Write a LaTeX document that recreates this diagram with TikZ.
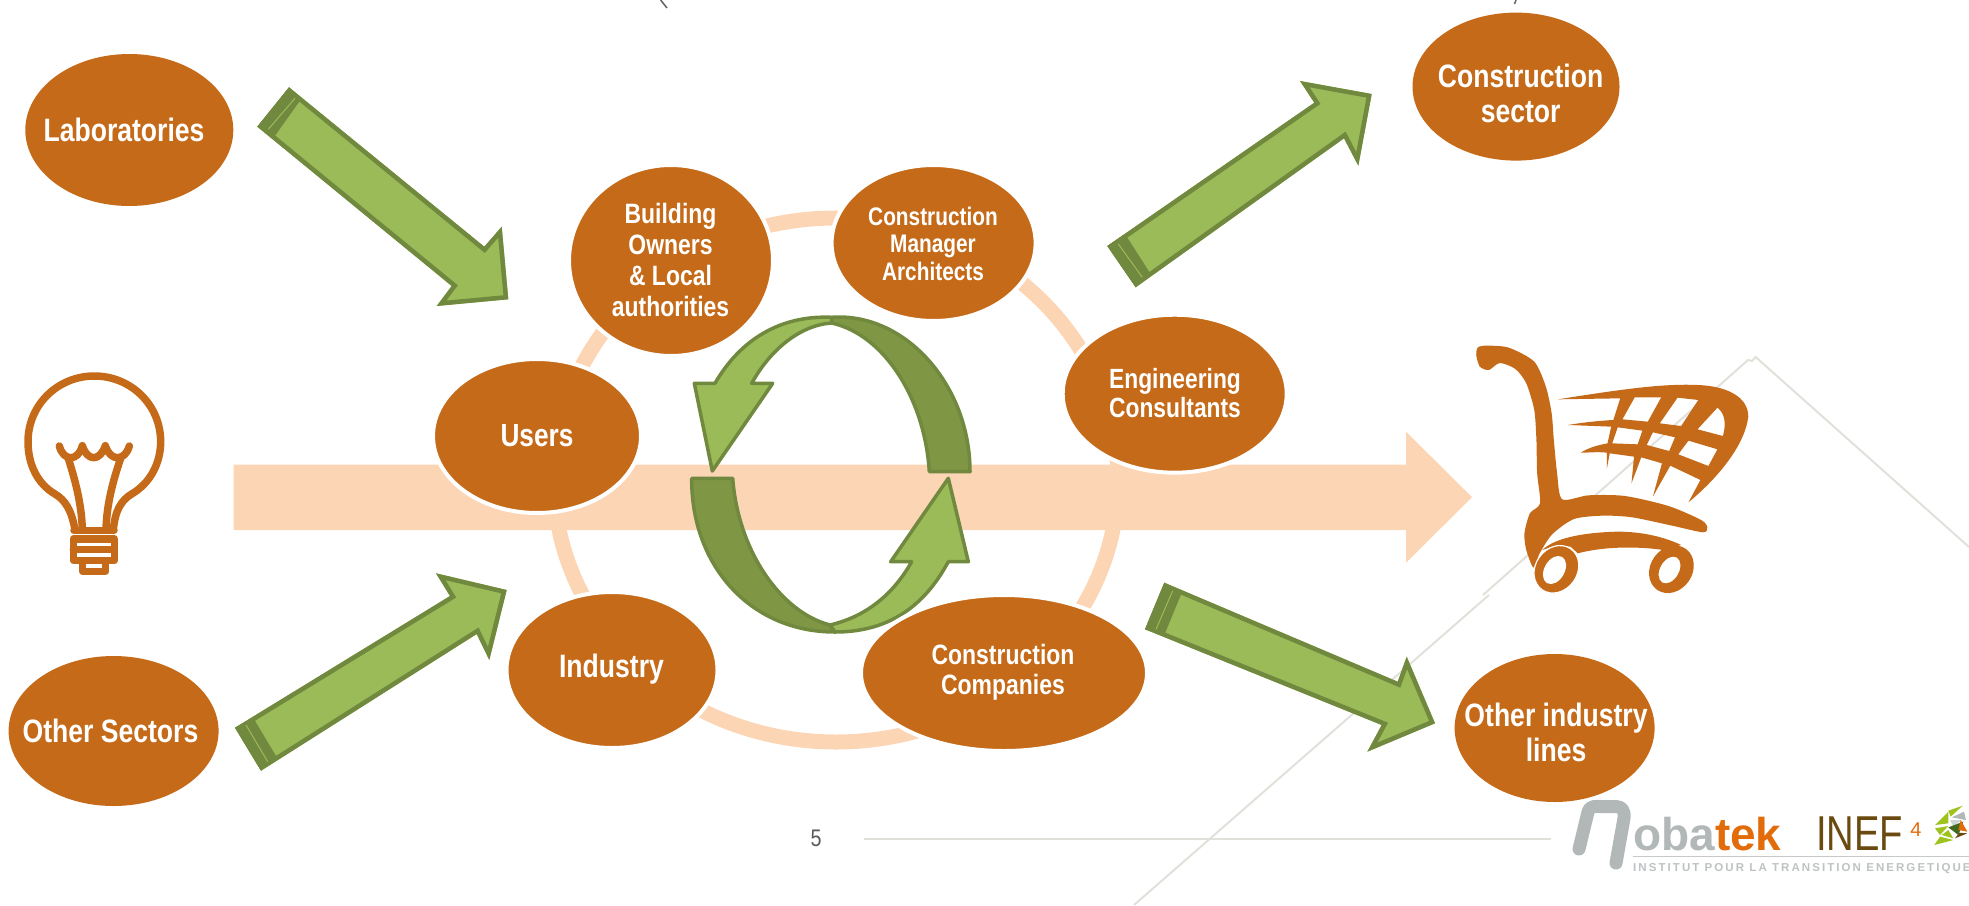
\documentclass[tikz,border=0pt]{standalone}
\usepackage{fontspec}
\usetikzlibrary{shapes.geometric}
\setmainfont{Liberation Sans}
\newfontfamily\narrowfont[FakeStretch=0.82]{Liberation Sans}
\newfontfamily\inefont[FakeStretch=0.78]{Liberation Sans}
\definecolor{blobc}{HTML}{C56A18}
\definecolor{peach}{HTML}{FCD5B5}
\definecolor{gl}{HTML}{9BBB59}
\definecolor{gd}{HTML}{7F9645}
\definecolor{gs}{HTML}{71893F}
\definecolor{bgl}{HTML}{E2E0DB}
\definecolor{lgrey}{HTML}{B2B7B7}
\definecolor{lorange}{HTML}{E36C0A}
\definecolor{lbrown}{HTML}{6B4A10}
\definecolor{llime}{HTML}{9FC31D}
\definecolor{ldark}{HTML}{3E6B1E}
\tikzset{
  blob/.style={ellipse,fill=blobc,inner sep=0pt,outer sep=0pt},
  ringblob/.style={blob,draw=white,line width=4pt},
  lbl/.style={text=white,align=center,inner sep=0pt},
  cyc/.style={draw=gs,line width=3.5pt,line join=round},
  bgline/.style={draw=bgl,line width=2pt},
}
\newcommand\blockarrow[3]{%
  \fill[gl] #1 -- cycle;
  \fill[gs] #2 -- cycle;
  \begin{scope}
    \clip #1 -- cycle;
    \draw[gs,line width=9pt,line join=miter] #1 -- cycle;
    \draw[gl,line width=1pt] #3;
  \end{scope}}
\newcommand\lab[5]{\node[lbl,font={\narrowfont\bfseries\fontsize{#3}{#4}\selectfont}] at (#1,#2) {#5};}
\begin{document}
\begin{tikzpicture}[x=1pt,y=-1pt]
\useasboundingbox (0,0) rectangle (1969,905);
% background lines
\draw[bgline] (1134,905) -- (1489,595) (1483,595) -- (1748,360) -- (1752,361) -- (1755.6,357) -- (1969,547);
\draw[bgline] (864,838.5) -- (1551,838.5);
% cut off text above
\draw[color=black!60,line width=1.5pt] (660.6,0) -- (667,8) (1516,0) -- (1514.5,4);
% main arrow
\fill[peach] (233.5,464.7) -- (1406,464.7) -- (1406,431.7) -- (1472,497.2) -- (1406,562.7) -- (1406,530) -- (233.5,530) -- cycle;
% ring
\draw[peach,line width=15pt] (836,480) ellipse [x radius=282,y radius=262];
% cycle arrows
\path[cyc,fill=gd] (831.7,317.3) .. controls (905,312) and (970,385) .. (970,471.7) -- (929.3,471.7) .. controls (925,400) and (885,335) .. (831.7,323) -- cycle;
\path[cyc,fill=gl] (831.7,317.3) .. controls (780,315) and (740,340) .. (715,383.3) -- (694.3,383.3) -- (712.3,471) -- (772.7,383.3) -- (751.7,383.3) .. controls (770,350) and (800,325) .. (831.7,323) -- cycle;
\path[cyc,fill=gd] (691.7,478.3) .. controls (691,565) and (750,632) .. (835,632) -- (830,625) .. controls (780,612) and (738,550) .. (732.7,478.3) -- cycle;
\path[cyc,fill=gl] (948.3,478.3) -- (968.3,561.7) -- (948.3,561.7) .. controls (925,605) and (890,632) .. (835,632) -- (830,625) .. controls (860,618) and (890,600) .. (911.7,561.7) -- (890.7,561.7) -- cycle;
% outer blobs
\node[blob,minimum width=208pt,minimum height=152pt] (labs) at (129.3,130) {};
\node[blob,minimum width=210pt,minimum height=150pt] (others) at (113.6,731) {};
\node[blob,minimum width=207pt,minimum height=148pt] (csector) at (1516,86.6) {};
\node[blob,minimum width=200pt,minimum height=148pt] (olines) at (1554.6,728) {};
% ring blobs
\node[ringblob,minimum width=208pt,minimum height=154pt] (users) at (537,436) {};
\node[ringblob,minimum width=204pt,minimum height=191pt] (owners) at (671,260.5) {};
\node[ringblob,minimum width=204pt,minimum height=156pt] (manager) at (933.6,243) {};
\node[ringblob,minimum width=224pt,minimum height=158pt] (engineers) at (1174.7,393.7) {};
\node[ringblob,minimum width=286pt,minimum height=156pt] (companies) at (1004,673) {};
\node[ringblob,minimum width=211pt,minimum height=156pt] (industry) at (612,670) {};
% labels
\lab{124}{129.5}{32.4}{35}{Laboratories}
\lab{110.5}{731}{32.4}{35}{Other Sectors}
\lab{1520.6}{93}{32.4}{35}{Construction\\sector}
\lab{1556}{732}{32.4}{35}{Other industry\\lines}
\lab{537}{436}{32}{35}{Users}
\lab{670.5}{260}{28}{31}{Building\\Owners\\\& Local\\authorities}
\lab{933}{243.6}{25.4}{27.6}{Construction\\Manager\\Architects}
\lab{1175}{393}{27.8}{29}{Engineering\\Consultants}
\lab{1003}{672}{28}{30}{Construction\\Companies}
\lab{611.5}{669}{32.4}{35}{Industry}
% green arrows
\blockarrow{(289,87.3) -- (484.3,246.7) -- (501.7,226.7) -- (508.3,299.3) -- (436.7,306) -- (451.7,286) -- (257.3,126.7)}
  {(289,87.3) -- (301.7,98.3) -- (275,135.7) -- (257.3,126.7)}
  {(295,98.3) -- (268.3,129.3)}
\blockarrow{(235,727.7) -- (450,596) -- (436,573.3) -- (506.7,590) -- (489.3,660) -- (476.7,634) -- (261,770.7)}
  {(235,727.7) -- (253.3,718) -- (276,756) -- (261,770.7)}
  {(246,725) -- (267.7,761.7)}
\blockarrow{(1107.3,246) -- (1314.3,102.7) -- (1300,81) -- (1371.7,94) -- (1358.3,165.7) -- (1344,138.3) -- (1135.7,287.3)}
  {(1107.3,246) -- (1125,234) -- (1150,273) -- (1135.7,287.3)}
  {(1118.3,244) -- (1142.3,277.3)}
\blockarrow{(1164.3,582.7) -- (1397.7,681.7) -- (1406.7,656.7) -- (1435,723.3) -- (1367.3,751.7) -- (1381.7,725) -- (1145,629.3)}
  {(1164.3,582.7) -- (1182,592) -- (1164.3,635) -- (1145,629.3)}
  {(1172.7,590.7) -- (1156,629.3)}
% bulb
\begin{scope}[shift={(0,380)},scale=1/3,line width=7.5pt,line cap=round,line join=round]
  \draw[blobc] (225,450) .. controls (215,390) and (195,360) .. (165,342) .. controls (110,310) and (84,250) .. (84,185) .. controls (84,75) and (173,-12) .. (283,-12) .. controls (393,-12) and (482,75) .. (482,185) .. controls (482,250) and (450,310) .. (395,342) .. controls (365,360) and (345,390) .. (340,450);
  \draw[blobc] (178,198) .. controls (190,245) and (235,245) .. (247,197) .. controls (262,245) and (300,245) .. (316,197) .. controls (330,245) and (375,245) .. (388,198);
  \draw[blobc] (205,235) .. controls (225,300) and (245,370) .. (247,450);
  \draw[blobc] (362,235) .. controls (340,300) and (320,370) .. (318,450);
  \draw[blobc] (222,451) -- (342,451);
  \draw[blobc] (220,477) -- (343,477) -- (343,541) -- (220,541) -- cycle;
  \draw[blobc] (220,509) -- (343,509);
  \draw[blobc] (248,550) -- (248,574) -- (317,574) -- (317,550);
\end{scope}
% cart
\begin{scope}[shift={(1400,300)},xscale=0.3628,yscale=0.3333]
  \fill[blobc] plot[smooth cycle,tension=.45] coordinates {(210,165) (215,142) (240,137) (300,143) (370,185) (402,260) (418,340) (424,420) (433,520) (447,598) (520,586) (620,588) (740,618) (830,660) (847,682) (835,697) (750,677) (640,652) (560,647) (480,657) (420,702) (385,760) (368,803) (348,750) (343,700) (358,640) (386,610) (378,520) (376,420) (370,330) (348,250) (318,207) (275,189) (245,210) (220,200)};
  \fill[blobc,even odd rule] (435,298) .. controls (600,270) and (720,250) .. (820,255) .. controls (900,258) and (960,290) .. (960,350) .. controls (950,440) and (870,540) .. (795,607) -- (828,540) -- (745,497) -- (697,590) -- (722,490) -- (665,472) -- (638,550) -- (645,470) -- (578,460) -- (570,507) -- (570,458) .. controls (545,455) and (520,458) .. (498,458) .. controls (525,440) and (550,435) .. (572,430) -- (582,380) -- (463,375) .. controls (500,368) and (550,362) .. (588,360) -- (607,295) -- cycle
   (647,292) -- (720,292) -- (683,365) -- (613,358) -- cycle
   (765,293) -- (822,300) -- (775,378) -- (716,370) -- cycle
   (875,323) .. controls (895,340) and (900,370) .. (890,408) -- (820,388) -- cycle
   (600,382) -- (668,392) -- (655,433) -- (585,430) -- cycle
   (697,397) -- (758,412) -- (742,453) -- (680,435) -- cycle
   (795,422) -- (875,448) -- (850,498) -- (767,463) -- cycle;
  \fill[blobc] (392,750) .. controls (430,710) and (520,697) .. (600,695) .. controls (670,695) and (730,712) .. (775,735) -- (725,750) .. controls (650,738) and (560,740) .. (490,760) -- (470,740) -- (430,737) -- cycle;
\end{scope}
\path[fill=blobc,even odd rule,draw=white,line width=1.2pt] (1556.4,569.3) ellipse [x radius=25,y radius=21,rotate=55] (1554.5,570) ellipse [x radius=14.5,y radius=9.5,rotate=60];
\path[fill=blobc,even odd rule] (1671.4,569.3) ellipse [x radius=25,y radius=21,rotate=55] (1669.5,570) ellipse [x radius=14.5,y radius=9.5,rotate=60];
% footer
\node[inner sep=0pt,text=black!65] (pagenum) at (816,838) {\narrowfont\fontsize{24}{24}\selectfont 5};
% logo
\draw[lgrey,line width=13pt,line join=round,line cap=round] (1579,849) -- (1588,812) .. controls (1590,805) and (1596,806.5) .. (1602,806.5) -- (1616,806.5) .. controls (1622,806.5) and (1625,811) .. (1624,818) -- (1616,863);
\node[inner sep=0pt,anchor=base west] (oba) at (1633,850) {\fontsize{46}{46}\selectfont\bfseries\textcolor{lgrey}{oba}\textcolor{lorange}{tek}};
\node[inner sep=0pt,anchor=base west] (inef) at (1816,850) {\inefont\fontsize{49}{49}\selectfont\textcolor{lbrown}{INEF}};
\node[inner sep=0pt] (four) at (1916,830) {\fontsize{20}{20}\selectfont\textcolor{lorange}{4}};
\draw[lgrey!75,line width=1pt] (1633,856) -- (1969,856);
\node[inner sep=0pt,anchor=base west] (tag) at (1633,871) {\addfontfeature{LetterSpace=18}\fontsize{11.5}{12}\selectfont\bfseries\textcolor{lgrey!85}{INSTITUT POUR LA TRANSITION ENERGETIQUE}};
\begin{scope}[shift={(1540,770)},scale=1/3]
  \fill[llime] (1225,122) -- (1268,107) -- (1232,140) -- cycle;
  \fill[lgrey] (1235,142) -- (1272,125) -- (1278,150) -- cycle;
  \fill[llime] (1185,165) -- (1225,125) -- (1225,160) -- cycle;
  \fill[llime] (1185,175) -- (1225,168) -- (1200,195) -- cycle;
  \fill[lgrey!60] (1230,150) -- (1265,150) -- (1240,170) -- cycle;
  \fill[ldark] (1225,172) -- (1270,155) -- (1255,195) -- cycle;
  \fill[lorange] (1262,150) -- (1282,185) -- (1255,180) -- cycle;
  \fill[lbrown] (1258,188) -- (1282,190) -- (1245,205) -- cycle;
  \fill[llime] (1183,225) -- (1200,200) -- (1240,210) -- cycle;
  \fill[llime] (1205,195) -- (1225,180) -- (1240,205) -- cycle;
\end{scope}
\end{tikzpicture}
\end{document}
